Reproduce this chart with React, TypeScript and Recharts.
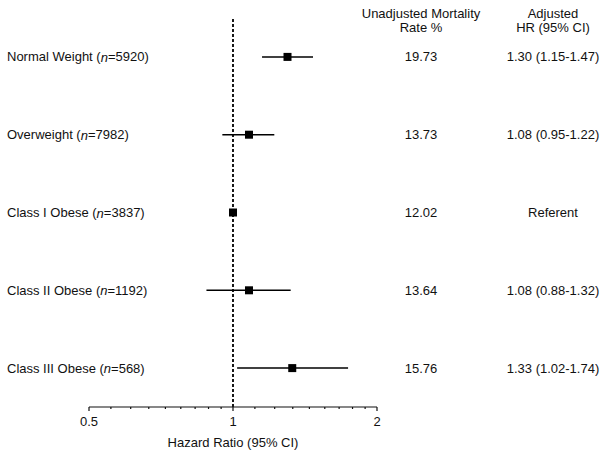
import React from 'react';
import { ScatterChart, Scatter, XAxis, YAxis, ErrorBar, ReferenceLine, Label, Customized } from 'recharts';

const groups = ['Normal Weight', 'Overweight', 'Class I Obese', 'Class II Obese', 'Class III Obese'];
const sizes = [5920, 7982, 3837, 1192, 568];
const hr = [1.3, 1.08, 1.0, 1.08, 1.33];
const ciLow = [1.15, 0.95, 1.0, 0.88, 1.02];
const ciHigh = [1.47, 1.22, 1.0, 1.32, 1.74];
const rates = ['19.73', '13.73', '12.02', '13.64', '15.76'];
const hrLabels = ['1.30 (1.15-1.47)', '1.08 (0.95-1.22)', 'Referent', '1.08 (0.88-1.32)', '1.33 (1.02-1.74)'];

const majorTicks = [0.5, 1, 2];
// minor ticks: 8 evenly spaced values between each pair of majors
const minorTicks = [0.5, 1].flatMap(lo => Array.from({ length: 8 }, (_, k) => lo + (lo * (k + 1)) / 9));
const xTicks = [...majorTicks, ...minorTicks].sort((a, b) => a - b);

const FONT = '"Liberation Sans", Arial, sans-serif';
const INK = '#111';
const RATE_X = 421;
const HR_X = 553;

const data = groups.map((g, i) => ({
  row: groups.length - i,
  hr: hr[i],
  err: [hr[i] - ciLow[i], ciHigh[i] - hr[i]],
}));

const rowIndex = (v: number) => groups.length - Math.round(v);

function XTick({ x, y, payload }: any) {
  const major = majorTicks.some(m => Math.abs(m - payload.value) < 1e-6);
  return (
    <g>
      <line x1={x} x2={x} y1={y} y2={y + (major ? 4 : 2)} stroke={INK} strokeWidth={1.2} />
      {major && (
        <text x={x} y={y + 14} textAnchor="middle" dominantBaseline="central" fontSize={13} fill={INK} fontFamily={FONT}>
          {payload.value}
        </text>
      )}
    </g>
  );
}

// row label on the left plus the two table columns on the right
function RowTick({ y, payload }: any) {
  const i = rowIndex(payload.value);
  return (
    <g fontSize={13} fill={INK} fontFamily={FONT}>
      <text x={7} y={y} dominantBaseline="central">
        {groups[i]} (<tspan fontStyle="italic">n</tspan>={sizes[i]})
      </text>
      <text x={RATE_X} y={y} textAnchor="middle" dominantBaseline="central">{rates[i]}</text>
      <text x={HR_X} y={y} textAnchor="middle" dominantBaseline="central">{hrLabels[i]}</text>
    </g>
  );
}

function Headers() {
  return (
    <g fontSize={13} fill={INK} fontFamily={FONT} textAnchor="middle">
      <text x={RATE_X} y={13} dominantBaseline="central">Unadjusted Mortality</text>
      <text x={RATE_X} y={27} dominantBaseline="central">Rate %</text>
      <text x={HR_X} y={13} dominantBaseline="central">Adjusted</text>
      <text x={HR_X} y={27} dominantBaseline="central">HR (95% CI)</text>
    </g>
  );
}

const squareShape = (p: any) => <rect x={p.cx - 4} y={p.cy - 4} width={8} height={8} fill="#000" />;

export default function App() {
  return (
    <div style={{ position: 'absolute', left: 0, top: 0, background: '#fff' }}>
      <ScatterChart width={604} height={458} margin={{ top: 18, right: 227, bottom: 0, left: 0 }}>
        <XAxis
          dataKey="hr"
          type="number"
          scale="log"
          domain={[0.5, 2]}
          ticks={xTicks}
          interval={0}
          allowDataOverflow
          height={51}
          tickSize={0}
          tickMargin={0}
          tickLine={false}
          tick={<XTick />}
          axisLine={{ stroke: INK, strokeWidth: 1.2 }}
        >
          <Label value="Hazard Ratio (95% CI)" position="insideBottom" offset={11} fontSize={13} fill={INK} fontFamily={FONT} />
        </XAxis>
        <YAxis
          dataKey="row"
          type="number"
          domain={[0.5, 5.5]}
          ticks={[1, 2, 3, 4, 5]}
          interval={0}
          width={89}
          axisLine={false}
          tickLine={false}
          tickSize={0}
          tickMargin={0}
          tick={<RowTick />}
        />
        <ReferenceLine x={1} stroke="#000" strokeWidth={1.8} strokeDasharray="3 2" />
        <Scatter data={data} shape={squareShape} isAnimationActive={false}>
          <ErrorBar dataKey="err" direction="x" width={0} stroke="#000" strokeWidth={1.5} />
        </Scatter>
        <Customized component={Headers} />
      </ScatterChart>
    </div>
  );
}
